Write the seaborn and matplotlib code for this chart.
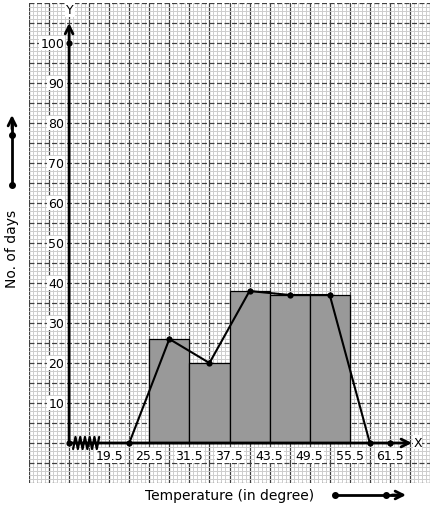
"""Histogram with frequency polygon on graph paper."""

import numpy as np
import matplotlib.pyplot as plt
import seaborn as sns

# class boundaries and frequencies
edges = [25.5, 31.5, 37.5, 43.5, 49.5, 55.5]
days = [26, 20, 38, 37, 37]
class_marks = [28.5, 34.5, 40.5, 46.5, 52.5]

# frequency polygon closes on the empty classes either side
poly_x = [22.5] + class_marks + [58.5]
poly_y = [0] + days + [0]

x_labels = ["19.5", "25.5", "31.5", "37.5", "43.5", "49.5", "55.5", "61.5"]
y_labels = [10, 20, 30, 40, 50, 60, 70, 80, 90, 100]

# axis origin (the broken x-axis starts here)
x0 = 13.5

sns.set_style("white")
plt.rcParams["font.family"] = ["DejaVu Sans"]
plt.rcParams["text.color"] = "black"

W, H = 434, 510
fig = plt.figure(figsize=(W / 100, H / 100), dpi=100)
ax = fig.add_axes([29 / W, 26 / H, 401 / W, 480 / H])
ax.set_xlim(7.5, 67.5)
ax.set_ylim(-10, 110)

# graph paper
ax.set_xticks(np.arange(7.5, 67.6, 3))
ax.set_xticks(np.arange(7.5, 67.6, 0.6), minor=True)
ax.set_yticks(np.arange(-10, 111, 5))
ax.set_yticks(np.arange(-10, 111, 1), minor=True)
ax.tick_params(which="both", length=0, labelbottom=False, labelleft=False)
ax.grid(which="minor", color="#cdcdcd", lw=0.7)
ax.grid(which="major", axis="x", color="#404040", lw=0.9)
ax.grid(which="major", axis="y", color="#404040", lw=0.9, ls=(0, (4, 2)))
ax.set_axisbelow(True)
for s in ax.spines.values():
    s.set_visible(False)

# histogram
sns.histplot(x=class_marks, weights=days, bins=edges, ax=ax,
             color="#999999", edgecolor="black", linewidth=0.9, alpha=1,
             zorder=3)
ax.set_xlabel("")
ax.set_ylabel("")

# axes with arrows
ax.annotate("", xy=(64.8, 0), xytext=(x0, 0),
            arrowprops=dict(arrowstyle="->", lw=2, color="black",
                            mutation_scale=14, shrinkA=0, shrinkB=0), zorder=5)
ax.annotate("", xy=(x0, 105), xytext=(x0, 0),
            arrowprops=dict(arrowstyle="->", lw=2, color="black",
                            mutation_scale=14, shrinkA=0, shrinkB=0), zorder=5)

# kink on the x-axis
zz_x = np.linspace(14.1, 18.0, 12)
zz_y = np.where(np.arange(12) % 2 == 0, -1.5, 1.5)
ax.plot(zz_x, zz_y, color="black", lw=1.6, zorder=6)

# frequency polygon
sns.lineplot(x=poly_x, y=poly_y, ax=ax, color="black", lw=1.5,
             marker="o", markersize=4.5, markeredgewidth=0, zorder=6,
             sort=False)
ax.plot([x0, 61.5, x0], [0, 0, 100], "o", color="black", ms=4.5, mew=0,
        zorder=6)

# tick labels
box = dict(facecolor="white", edgecolor="none", pad=0.6)
for i, lab in enumerate(x_labels):
    ax.text(19.5 + 6 * i, -3.2, lab, ha="center", va="center",
            fontsize=9, bbox=box, zorder=4)
for v in y_labels:
    ax.text(12.75, v, str(v), ha="right", va="center", fontsize=9,
            bbox=box, zorder=4)
ax.text(x0 + 0.15, 108.3, "Y", ha="center", va="center", fontsize=9,
        bbox=box, zorder=4)
ax.text(65.0, 0.2, "X", ha="left", va="center", fontsize=9,
        bbox=dict(facecolor="white", edgecolor="none", pad=0.3), zorder=4)

# axis titles
fig.text(230 / W, 1 - 496 / H, "Temperature (in degree)", ha="center",
         va="center", fontsize=10)
fig.text(12 / W, 1 - 249 / H, "No. of days", ha="center", va="center",
         fontsize=10, rotation=90)

# scale arrows in the margins
fig.add_artist(plt.Line2D([12 / W, 12 / W], [1 - 186 / H, 1 - 124 / H],
                          color="black", lw=2))
fig.add_artist(plt.Line2D([335 / W, 398 / W], [1 - 496 / H, 1 - 496 / H],
                          color="black", lw=2))
ax.annotate("", xy=(12, H - 116), xytext=(12, H - 130),
            xycoords="figure pixels", textcoords="figure pixels",
            arrowprops=dict(arrowstyle="->", lw=2, color="black",
                            mutation_scale=14, shrinkA=0, shrinkB=0),
            annotation_clip=False)
ax.annotate("", xy=(406, 14), xytext=(392, 14),
            xycoords="figure pixels", textcoords="figure pixels",
            arrowprops=dict(arrowstyle="->", lw=2, color="black",
                            mutation_scale=14, shrinkA=0, shrinkB=0),
            annotation_clip=False)
fig.add_artist(plt.Line2D([12 / W, 12 / W], [1 - 136 / H, 1 - 186 / H],
                          ls="none", marker="o", ms=4, color="black"))
fig.add_artist(plt.Line2D([335 / W, 386 / W], [14 / H, 14 / H],
                          ls="none", marker="o", ms=4, color="black"))

fig.savefig("out.png", dpi=100)
